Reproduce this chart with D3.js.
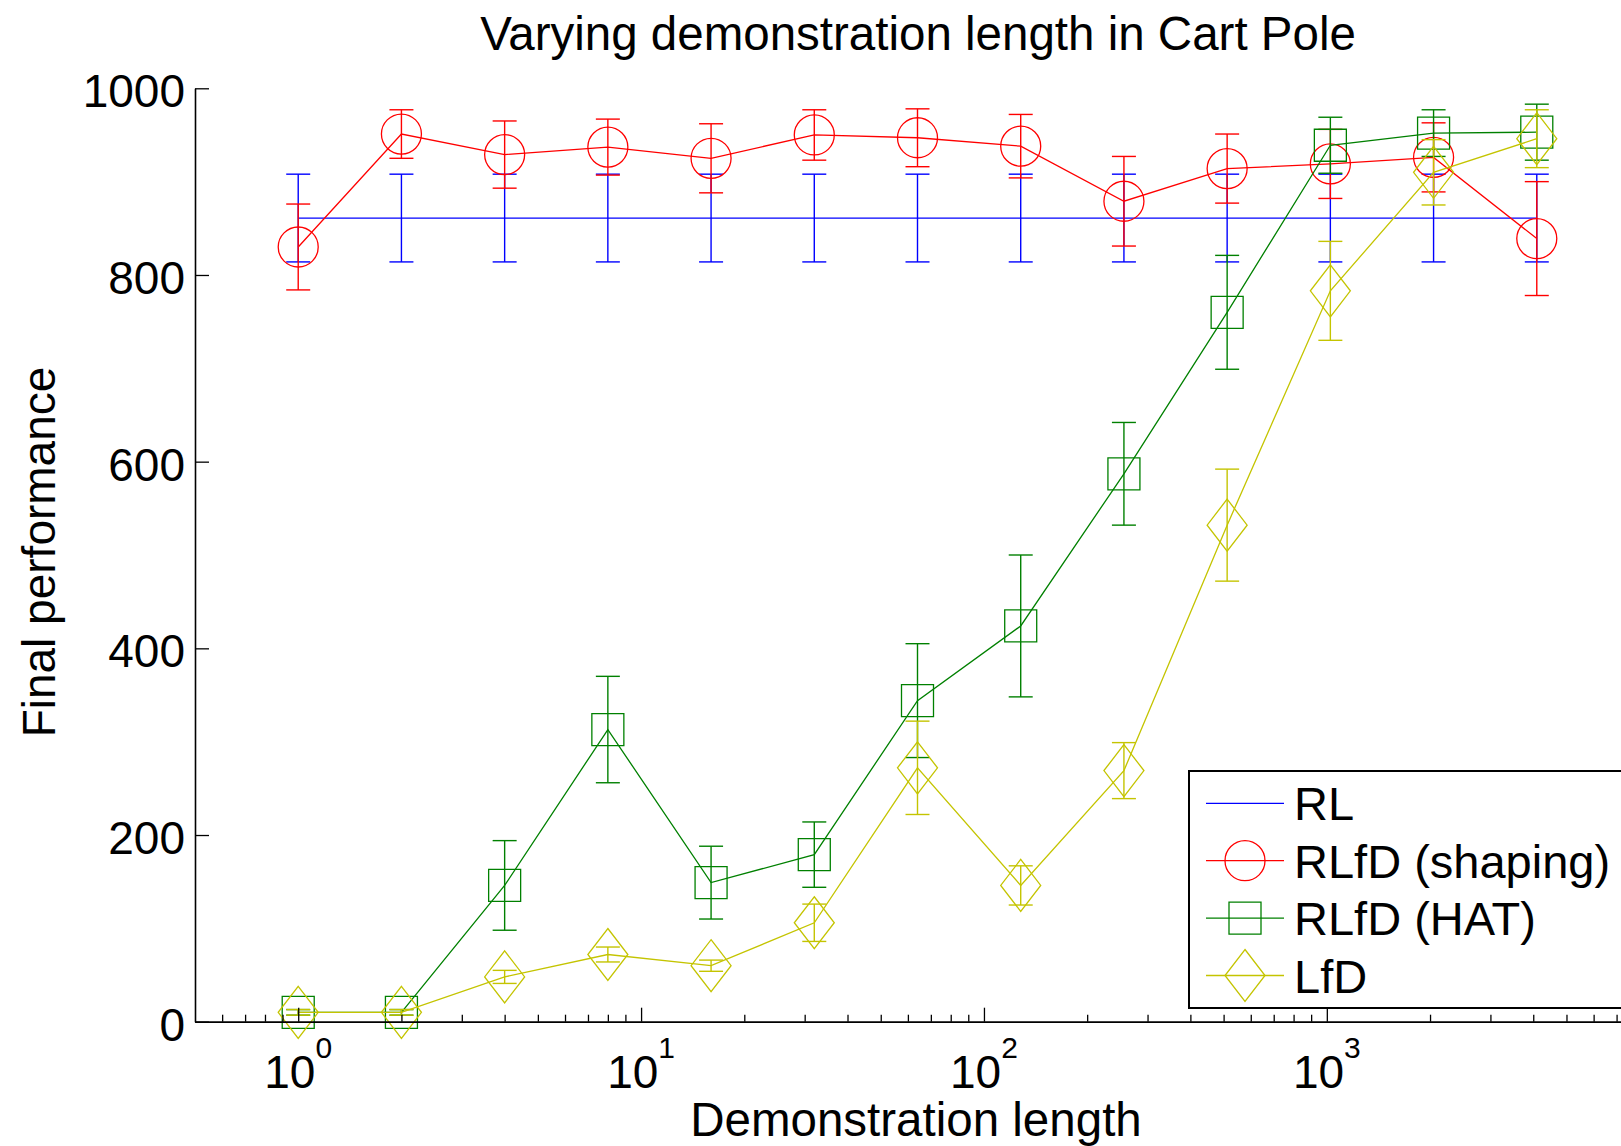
<!DOCTYPE html>
<html>
<head>
<meta charset="utf-8">
<script src="https://cdn.jsdelivr.net/npm/d3@7"></script>
<style>
  html, body { margin: 0; padding: 0; background: #fff; }
  svg { display: block; font-family: "Liberation Sans", Arial, Helvetica, sans-serif; }
</style>
</head>
<body>
<svg id="chart" width="1621" height="1146"></svg>
<script>
// ---- data ----
const demoLengths = [1, 2, 4, 8, 16, 32, 64, 128, 256, 512, 1024, 2048, 4096];
const rlMean      = [861, 861, 861, 861, 861, 861, 861, 861, 861, 861, 861, 861, 861];
const rlErr       = [47, 47, 47, 47, 47, 47, 47, 47, 47, 47, 47, 47, 47];
const shapingMean = [830, 951, 929, 937, 925, 950, 947, 938, 879, 914, 919, 926, 839];
const shapingErr  = [46, 26, 36, 30, 37, 27, 31, 34, 48, 37, 37, 37, 61];
const hatMean     = [10, 10, 146, 313, 149, 179, 344, 424, 587, 760, 939, 952, 953];
const hatErr      = [3, 3, 48, 57, 39, 35, 61, 76, 55, 61, 30, 25, 30];
const lfdMean     = [10, 10, 48, 72, 60, 106, 272, 146, 269, 532, 783, 910, 946];
const lfdErr      = [3, 3, 7, 8, 6, 20, 50, 21, 30, 60, 53, 35, 31];
const seriesNames = ["RL", "RLfD (shaping)", "RLfD (HAT)", "LfD"];
const yTicks = [0, 200, 400, 600, 800, 1000];
const xMajorTicks = [1, 10, 100, 1000];
const xMajorExp = ["0", "1", "2", "3"];

const series = [
  { name: seriesNames[0], mean: rlMean, err: rlErr, color: "#0000ff", marker: "none" },
  { name: seriesNames[1], mean: shapingMean, err: shapingErr, color: "#ff0000", marker: "circle" },
  { name: seriesNames[2], mean: hatMean, err: hatErr, color: "#008000", marker: "square" },
  { name: seriesNames[3], mean: lfdMean, err: lfdErr, color: "#c4c400", marker: "diamond" }
];

const svg = d3.select("#chart");
svg.append("rect").attr("width", 1621).attr("height", 1146).attr("fill", "#fff");

const x = d3.scaleLog().domain([0.5, 8192]).range([195, 1640]);
const y = d3.scaleLinear().domain([0, 1000]).range([1021.7, 88.3]);

// minor ticks
const minorTicks = [];
for (let p = -1; p <= 3; p++) {
  for (let m = 2; m <= 9; m++) {
    const v = m * Math.pow(10, p);
    if (v > 0.5 && v < 8192) minorTicks.push(v);
  }
}

// ---- data marks ----
const capW = 12;
function markerPath(type, cx, cy) {
  if (type === "square") return `M${cx-16},${cy-16}h32v32h-32Z`;
  if (type === "diamond") return `M${cx},${cy-26}L${cx+20},${cy}L${cx},${cy+26}L${cx-20},${cy}Z`;
  return null;
}

series.forEach(s => {
  const g = svg.append("g");
  const pts = demoLengths.map((d, i) => ({ x: d, m: s.mean[i], e: s.err[i] }));
  pts.forEach(p => {
    const cx = x(p.x), y1 = y(p.m + p.e), y2 = y(p.m - p.e);
    g.append("line").attr("x1", cx).attr("x2", cx).attr("y1", y1).attr("y2", y2)
      .attr("stroke", s.color).attr("stroke-width", 1.4);
    g.append("line").attr("x1", cx - capW).attr("x2", cx + capW).attr("y1", y1).attr("y2", y1)
      .attr("stroke", s.color).attr("stroke-width", 1.4);
    g.append("line").attr("x1", cx - capW).attr("x2", cx + capW).attr("y1", y2).attr("y2", y2)
      .attr("stroke", s.color).attr("stroke-width", 1.4);
  });
  g.append("path").datum(pts)
    .attr("d", d3.line().x(p => x(p.x)).y(p => y(p.m)))
    .attr("fill", "none").attr("stroke", s.color).attr("stroke-width", 1.3);
  pts.forEach(p => {
    const cx = x(p.x), cy = y(p.m);
    if (s.marker === "circle") {
      g.append("circle").attr("cx", cx).attr("cy", cy).attr("r", 20)
        .attr("fill", "none").attr("stroke", s.color).attr("stroke-width", 1.3);
    } else if (s.marker !== "none") {
      g.append("path").attr("d", markerPath(s.marker, cx, cy))
        .attr("fill", "none").attr("stroke", s.color).attr("stroke-width", 1.3);
    }
  });
});

// ---- axes ----
const xAxisMinor = d3.axisBottom(x).tickValues(minorTicks).tickSize(-7).tickSizeOuter(0).tickFormat("");
const xAxisMajor = d3.axisBottom(x).tickValues(xMajorTicks).tickSize(-14).tickSizeOuter(0).tickFormat("");
const gxMinor = svg.append("g").attr("transform", `translate(0,${y(0)})`).call(xAxisMinor);
const gx = svg.append("g").attr("transform", `translate(0,${y(0)})`).call(xAxisMajor);
[gxMinor, gx].forEach(g => {
  g.selectAll("path.domain").attr("stroke", "#000").attr("stroke-width", 1.6);
  g.selectAll(".tick line").attr("stroke", "#000").attr("stroke-width", 1.3);
});

const yAxis = d3.axisLeft(y).tickValues(yTicks).tickSize(-14).tickSizeOuter(0).tickPadding(10)
  .tickFormat(d3.format("d"));
const gy = svg.append("g").attr("transform", `translate(${x(0.5)},0)`).call(yAxis);
gy.selectAll("path.domain").attr("stroke", "#000").attr("stroke-width", 1.6);
gy.selectAll(".tick line").attr("stroke", "#000").attr("stroke-width", 1.3);
gy.selectAll(".tick text").attr("font-size", 46).attr("font-family", "Liberation Sans, Arial, sans-serif")
  .attr("fill", "#000").attr("dy", "0.4em");

// x tick labels with superscripts
const xl = svg.append("g");
xMajorTicks.forEach((v, i) => {
  const t = xl.append("text").attr("x", x(v)).attr("y", 1088)
    .attr("text-anchor", "middle").attr("font-size", 46).attr("fill", "#000");
  t.append("tspan").text("10");
  t.append("tspan").attr("dy", -30).attr("font-size", 30).text(xMajorExp[i]);
});

// titles
svg.append("text").attr("x", 918).attr("y", 50).attr("text-anchor", "middle")
  .attr("font-size", 47.5).attr("fill", "#000").text("Varying demonstration length in Cart Pole");
svg.append("text").attr("x", 916).attr("y", 1136).attr("text-anchor", "middle")
  .attr("font-size", 47.5).attr("fill", "#000").text("Demonstration length");
svg.append("text").attr("transform", "translate(55,552) rotate(-90)").attr("text-anchor", "middle")
  .attr("font-size", 46).attr("fill", "#000").text("Final performance");

// ---- legend ----
const lg = svg.append("g");
lg.append("rect").attr("x", 1189).attr("y", 771).attr("width", 460).attr("height", 237)
  .attr("fill", "#fff").attr("stroke", "#000").attr("stroke-width", 2);
series.forEach((s, i) => {
  const cy = 803.3 + i * 57.4;
  lg.append("line").attr("x1", 1206).attr("x2", 1284).attr("y1", cy).attr("y2", cy)
    .attr("stroke", s.color).attr("stroke-width", 1.3);
  if (s.marker === "circle") {
    lg.append("circle").attr("cx", 1245).attr("cy", cy).attr("r", 20)
      .attr("fill", "none").attr("stroke", s.color).attr("stroke-width", 1.3);
  } else if (s.marker !== "none") {
    lg.append("path").attr("d", markerPath(s.marker, 1245, cy))
      .attr("fill", "none").attr("stroke", s.color).attr("stroke-width", 1.3);
  }
  lg.append("text").attr("x", 1294).attr("y", cy + 17).attr("font-size", 47)
    .attr("fill", "#000").text(s.name);
});
</script>
</body>
</html>
